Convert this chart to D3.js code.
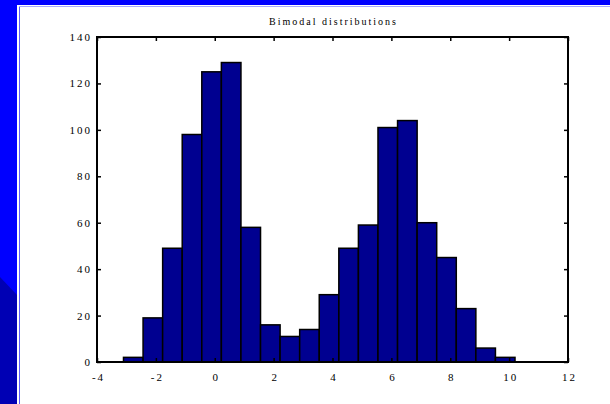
<!DOCTYPE html>
<html><head><meta charset="utf-8">
<script src="https://cdn.jsdelivr.net/npm/d3@7"></script>
<style>html,body{margin:0;padding:0;background:#0000ff;overflow:hidden}</style>
</head><body>
<script>
// Histogram bin edges (20 equal bins) and counts per bin
const binEdges = [-3.100, -2.435, -1.770, -1.105, -0.440, 0.225, 0.890, 1.555, 2.220, 2.885,
                  3.550, 4.215, 4.880, 5.545, 6.210, 6.875, 7.540, 8.205, 8.870, 9.535, 10.200];
const counts = [2, 19, 49, 98, 125, 129, 58, 16, 11, 14, 29, 49, 59, 101, 104, 60, 45, 23, 6, 2];
const xTicks = [-4, -2, 0, 2, 4, 6, 8, 10, 12];
const yTicks = [0, 20, 40, 60, 80, 100, 120, 140];
const title = "Bimodal distributions";

const W = 610, H = 404;
const plot = {left: 97, right: 568, top: 37, bottom: 362};

const svg = d3.select("body").append("svg").attr("width", W).attr("height", H);

// slide background
svg.append("rect").attr("width", W).attr("height", H).attr("fill", "#0000ff");
svg.append("polygon")
  .attr("points", "0,277 17,295 17,404 0,404")
  .attr("fill", "#0000b4");
svg.append("rect").attr("x", 17).attr("y", 5).attr("width", W - 17).attr("height", H - 5)
  .attr("fill", "#ffffff");
svg.append("line").attr("x1", 19.5).attr("x2", 19.5).attr("y1", 6.5).attr("y2", H)
  .attr("stroke", "#5a5aff").attr("stroke-width", 1);
svg.append("line").attr("x1", 19.5).attr("x2", W).attr("y1", 6.5).attr("y2", 6.5)
  .attr("stroke", "#a8a8ff").attr("stroke-width", 1);

const x = d3.scaleLinear().domain([-4, 12]).range([plot.left, plot.right]);
const y = d3.scaleLinear().domain([0, 140]).range([plot.bottom, plot.top]);

// bars
svg.append("g").selectAll("rect").data(counts).join("rect")
  .attr("x", (d, i) => x(binEdges[i]))
  .attr("width", (d, i) => x(binEdges[i + 1]) - x(binEdges[i]))
  .attr("y", d => y(d))
  .attr("height", d => y(0) - y(d))
  .attr("fill", "#000090")
  .attr("stroke", "#000")
  .attr("stroke-width", 1.5);

const font = "'Liberation Serif', 'Times New Roman', serif";
function styleAxis(g, showLabels) {
  g.select(".domain").remove();
  g.selectAll(".tick line").attr("stroke", "#000").attr("stroke-width", 1.5);
  g.selectAll(".tick text")
    .attr("fill", "#000")
    .style("font-family", font)
    .style("font-size", "11px")
    .style("letter-spacing", "2px")
    .style("display", showLabels ? null : "none");
}

svg.append("g").attr("transform", `translate(0,${plot.bottom})`)
  .call(d3.axisBottom(x).tickValues(xTicks).tickFormat(d => String(d)).tickSize(-4).tickPadding(11))
  .call(g => styleAxis(g, true))
  .selectAll(".tick text").attr("dx", "1px");
svg.append("g").attr("transform", `translate(0,${plot.top})`)
  .call(d3.axisTop(x).tickValues(xTicks).tickSize(-4))
  .call(g => styleAxis(g, false));
svg.append("g").attr("transform", `translate(${plot.left},0)`)
  .call(d3.axisLeft(y).tickValues(yTicks).tickFormat(d => String(d)).tickSize(-4).tickPadding(5))
  .call(g => styleAxis(g, true));
svg.append("g").attr("transform", `translate(${plot.right},0)`)
  .call(d3.axisRight(y).tickValues(yTicks).tickSize(-4))
  .call(g => styleAxis(g, false));

// axes box
svg.append("rect")
  .attr("x", plot.left).attr("y", plot.top)
  .attr("width", plot.right - plot.left).attr("height", plot.bottom - plot.top)
  .attr("fill", "none").attr("stroke", "#000").attr("stroke-width", 2);

svg.append("text")
  .attr("x", (plot.left + plot.right) / 2 + 1).attr("y", 25)
  .attr("text-anchor", "middle")
  .style("font-family", font).style("font-size", "10px").style("letter-spacing", "2px")
  .attr("fill", "#000")
  .text(title);
</script>
</body></html>
